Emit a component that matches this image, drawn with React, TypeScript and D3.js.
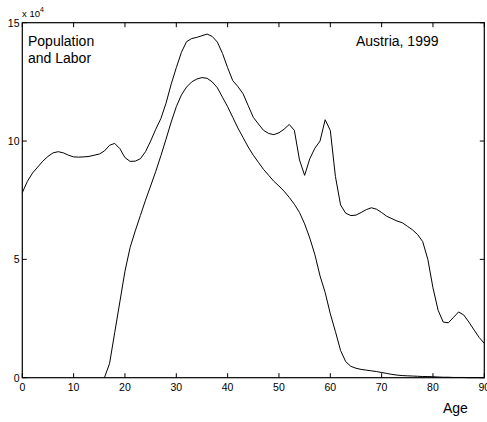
import React from "react";
import * as d3 from "d3";

// Age in single years, 0..90
const ages: number[] = d3.range(0, 91);

// Total population by single year of age (units of 10^4)
const population: number[] = [
  7.82, 8.3, 8.65, 8.9, 9.15, 9.35, 9.5, 9.55, 9.5, 9.4,
  9.33, 9.32, 9.33, 9.35, 9.4, 9.45, 9.58, 9.82, 9.9, 9.68,
  9.3, 9.14, 9.15, 9.25, 9.55, 10.0, 10.5, 10.95, 11.6, 12.4,
  13.1, 13.75, 14.2, 14.33, 14.38, 14.45, 14.52, 14.42, 14.18, 13.7,
  13.1, 12.55, 12.3, 12.0, 11.5, 11.0, 10.72, 10.45, 10.32, 10.27,
  10.35, 10.5, 10.7, 10.45, 9.2, 8.55, 9.25, 9.7, 10.0, 10.9,
  10.45, 8.5, 7.3, 6.95, 6.85, 6.87, 6.98, 7.1, 7.18, 7.12,
  6.98, 6.82, 6.72, 6.62, 6.55, 6.4, 6.25, 6.05, 5.75, 5.0,
  3.8, 2.85, 2.35, 2.32, 2.55, 2.78, 2.65, 2.35, 2.02, 1.7,
  1.45,
];

// Labor force by single year of age (units of 10^4)
const labor: number[] = [
  0, 0, 0, 0, 0, 0, 0, 0, 0, 0,
  0, 0, 0, 0, 0, 0, 0, 0.6, 1.9, 3.2,
  4.5, 5.5, 6.2, 6.85, 7.5, 8.1, 8.72, 9.38, 10.08, 10.8,
  11.45, 11.95, 12.28, 12.5, 12.62, 12.68, 12.65, 12.5, 12.25, 11.85,
  11.45, 11.0, 10.55, 10.15, 9.75, 9.4, 9.1, 8.8, 8.55, 8.3,
  8.1, 7.88, 7.62, 7.33, 6.98, 6.5, 5.9, 5.2, 4.3, 3.6,
  2.7, 1.95, 1.15, 0.68, 0.48, 0.4, 0.35, 0.32, 0.29, 0.26,
  0.22, 0.18, 0.14, 0.11, 0.09, 0.08, 0.07, 0.06, 0.05, 0.05,
  0.04, 0.03, 0.02, 0.02, 0.01, 0.01, 0.01, 0, 0, 0,
  0,
];

const xTicks: number[] = [0, 10, 20, 30, 40, 50, 60, 70, 80, 90];
const yTicks: number[] = [0, 5, 10, 15];

const W = 487;
const H = 422;
const plot = { left: 22.3, right: 484.3, top: 22.7, bottom: 377.7 };
const font = "'Liberation Sans', Arial, Helvetica, sans-serif";

export default function App() {
  const x = d3.scaleLinear().domain([0, 90]).range([plot.left, plot.right]);
  const y = d3.scaleLinear().domain([0, 15]).range([plot.bottom, plot.top]);

  const line = d3
    .line<number>()
    .x((_, i) => x(ages[i]))
    .y((d) => y(d));

  const popPath = line(population) || "";
  const laborStart = labor.findIndex((v) => v > 0) - 1;
  const laborPath =
    d3
      .line<number>()
      .x((_, i) => x(ages[i + laborStart]))
      .y((d) => y(d))(labor.slice(laborStart)) || "";

  const tick = 4.5;

  return (
    <svg
      width={W}
      height={H}
      style={{ position: "absolute", left: 0, top: 0, background: "#fff" }}
      fontFamily={font}
    >
      <rect x={0} y={0} width={W} height={H} fill="#fff" />
      <g stroke="#000" strokeWidth={1} fill="none">
        <path d={popPath} />
        <path d={laborPath} />
      </g>

      {/* axes box with inward ticks on all four sides */}
      <rect
        x={plot.left}
        y={plot.top}
        width={plot.right - plot.left}
        height={plot.bottom - plot.top}
        fill="none"
        stroke="#000"
        strokeWidth={1.2}
      />
      <g stroke="#000" strokeWidth={1}>
        {xTicks.map((t) => (
          <g key={"xt" + t}>
            <line x1={x(t)} x2={x(t)} y1={plot.bottom} y2={plot.bottom - tick} />
            <line x1={x(t)} x2={x(t)} y1={plot.top} y2={plot.top + tick} />
          </g>
        ))}
        {yTicks.map((t) => (
          <g key={"yt" + t}>
            <line x1={plot.left} x2={plot.left + tick} y1={y(t)} y2={y(t)} />
            <line x1={plot.right} x2={plot.right - tick} y1={y(t)} y2={y(t)} />
          </g>
        ))}
      </g>

      <g fontSize={10.5} fill="#000">
        {xTicks.map((t) => (
          <text key={"xl" + t} x={x(t)} y={391} textAnchor="middle">
            {t}
          </text>
        ))}
        {yTicks.map((t) => (
          <text key={"yl" + t} x={19.5} y={y(t) + 4} textAnchor="end">
            {t}
          </text>
        ))}
        <text x={22} y={17} fontSize={9.5}>
          x 10
          <tspan dy={-5} fontSize={7}>
            4
          </tspan>
        </text>
      </g>

      <g fontSize={14} fill="#000">
        <text x={28} y={46}>Population</text>
        <text x={28} y={63}>and Labor</text>
        <text x={356} y={46}>Austria, 1999</text>
        <text x={443} y={413}>Age</text>
      </g>
    </svg>
  );
}
